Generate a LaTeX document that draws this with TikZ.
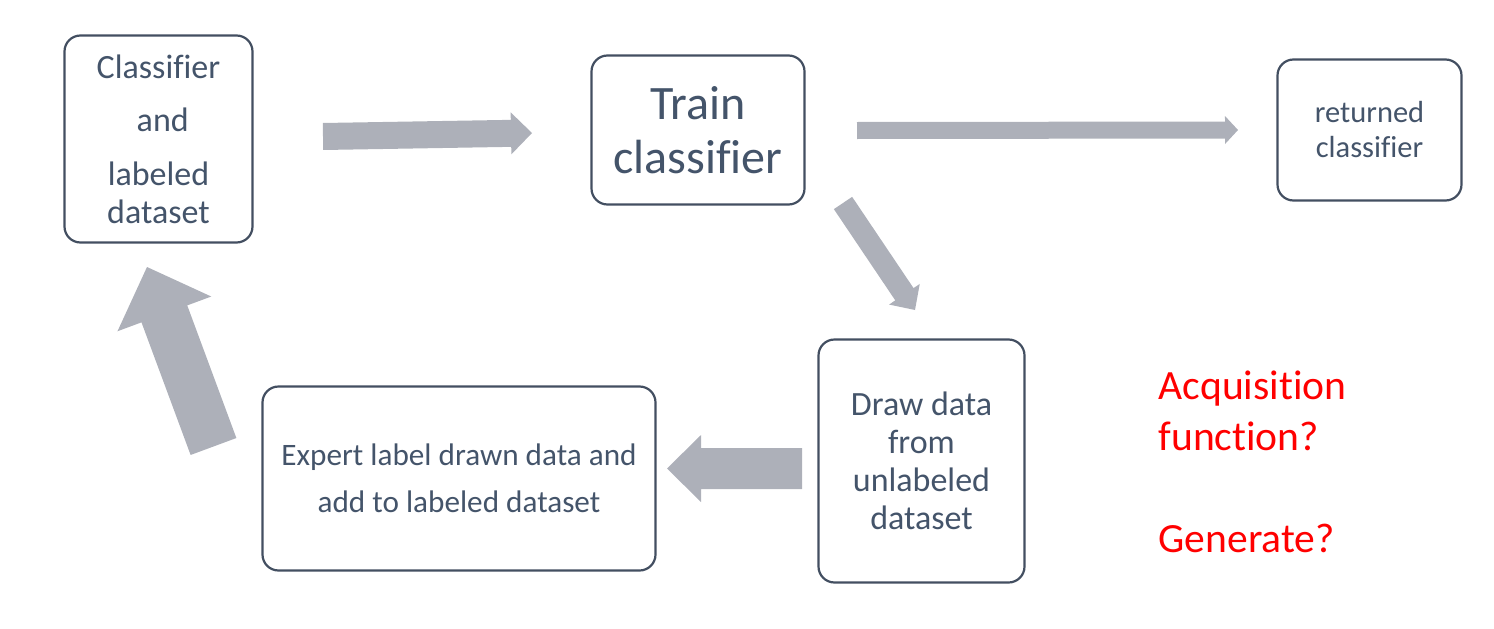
\documentclass[tikz,border=0pt]{standalone}
\usepackage{fontspec}
\setmainfont[Ligatures=CommonOff]{Carlito}
\usetikzlibrary{calc}

\definecolor{slate}{HTML}{44546A}
\definecolor{boxline}{HTML}{434F61}
\definecolor{arrowgray}{HTML}{ADB0B9}
\definecolor{qred}{HTML}{FF0000}

% block arrow: tail, tip, half shaft, half head, head length
\newcommand{\blockarrow}[5]{%
  \coordinate (hb) at ($(#2)!#5!(#1)$);
  \fill[arrowgray] ($(#1)!#3!90:(#2)$) -- ($(hb)!#3!90:(#2)$) -- ($(hb)!#4!90:(#2)$)
    -- (#2) -- ($(hb)!#4!-90:(#2)$) -- ($(hb)!#3!-90:(#2)$) -- ($(#1)!#3!-90:(#2)$) -- cycle;
}

\begin{document}
\begin{tikzpicture}[x=1pt, y=-1pt,
    stepbox/.style={draw=boxline, line width=2.2pt, rounded corners=16pt,
      align=center, text=slate, inner sep=0pt}]
    \useasboundingbox (0,0) rectangle (1494,629);

    % Boxes
    \node[stepbox, minimum width=188pt, minimum height=207pt,
      font=\fontsize{34}{38}\selectfont] (labeled) at (158.5,139)
      {Classifier\\[15pt]\hspace*{0.25em}and\\[16pt]labeled\\dataset};
    \node[stepbox, minimum width=213pt, minimum height=149pt,
      font=\fontsize{48}{54}\selectfont] (train) at (698,130) {Train\\classifier};
    \node[stepbox, minimum width=184pt, minimum height=141pt,
      font=\fontsize{30.5}{35}\selectfont] (returned) at (1369.5,130) {returned\\classifier};
    \node[stepbox, minimum width=206pt, minimum height=243pt,
      font=\fontsize{34}{38}\selectfont] (drawdata) at (921.5,461)
      {Draw data\\from\\unlabeled\\dataset};
    \node[stepbox, minimum width=393pt, minimum height=184pt,
      font=\fontsize{31.2}{47}\selectfont] (expert) at (459,478.5)
      {Expert label drawn data and\\add to labeled dataset};

    % Open questions
    \node[anchor=base west, align=left, text=qred,
      font=\fontsize{41.6}{51}\selectfont] (acq) at (1155,450) {Acquisition\\function?};
    \node[anchor=base west, text=qred,
      font=\fontsize{41.6}{51}\selectfont] (gen) at (1155,552) {Generate?};

    % Arrows
    \coordinate (t1) at (323,136.5);  \coordinate (h1) at (532,133);
    \coordinate (t2) at (857,130.5);  \coordinate (h2) at (1238,130);
    \coordinate (t3) at (843,203);    \coordinate (h3) at (915,310);
    \coordinate (t4) at (802,468.5);  \coordinate (h4) at (667,468.5);
    \coordinate (t5) at (213.5,446.5); \coordinate (h5) at (147,267);
    \blockarrow{t1}{h1}{13.5pt}{21pt}{21pt}
    \blockarrow{t2}{h2}{8.5pt}{14pt}{13pt}
    \blockarrow{t3}{h3}{11pt}{18.5pt}{19pt}
    \blockarrow{t4}{h4}{20.5pt}{33.5pt}{34pt}
    \blockarrow{t5}{h5}{24.4pt}{50pt}{50pt}
\end{tikzpicture}
\end{document}
